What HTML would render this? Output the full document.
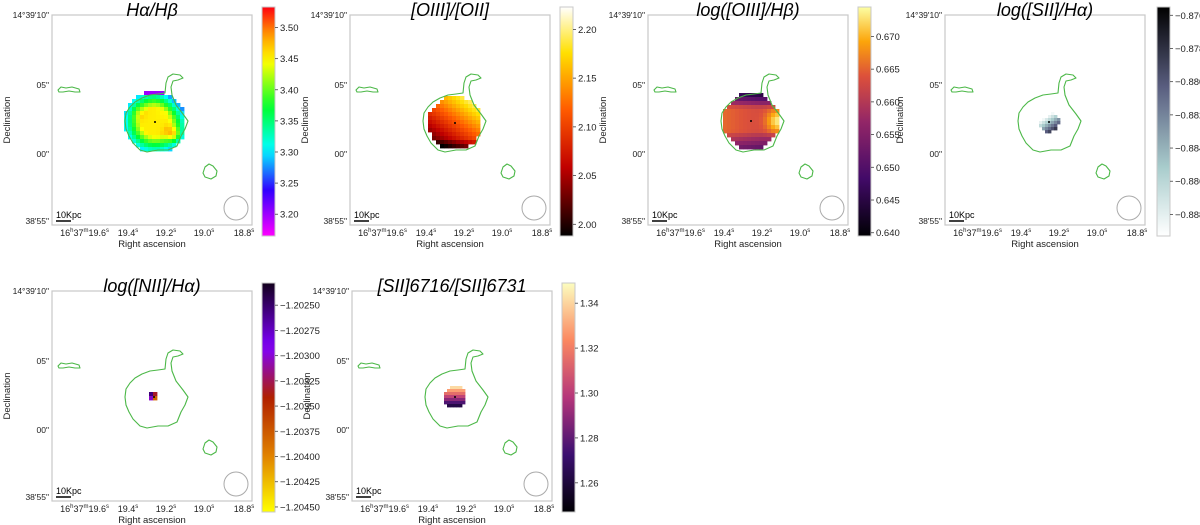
<!DOCTYPE html>
<html><head><meta charset="utf-8">
<style>
html,body{margin:0;padding:0;background:#fff;}
svg{display:block;font-family:"Liberation Sans","DejaVu Sans",sans-serif;}
</style></head>
<body>
<svg id="fig" width="1200" height="525" viewBox="0 0 1200 525" xmlns="http://www.w3.org/2000/svg"></svg>
<script>
// ---- data arrays ----
const panelTitles = ["Hα/Hβ","[OIII]/[OII]","log([OIII]/Hβ)","log([SII]/Hα)","log([NII]/Hα)","[SII]6716/[SII]6731"];
const yTickLabels = ["14°39'10\"","05\"","00\"","38'55\""];
const xTickLabels = ["19.4","19.2","19.0","18.8"];
const cbarMin = [3.165, 1.988, 0.6395, -0.8893, -1.20455, 1.247];
const cbarMax = [3.533, 2.223, 0.6745, -0.8755, -1.20228, 1.349];
const cbarTicks1 = [3.20,3.25,3.30,3.35,3.40,3.45,3.50];
const cbarTicks2 = [2.00,2.05,2.10,2.15,2.20];
const cbarTicks3 = [0.640,0.645,0.650,0.655,0.660,0.665,0.670];
const cbarTicks4 = [-0.888,-0.886,-0.884,-0.882,-0.880,-0.878,-0.876];
const cbarTicks5 = [-1.20450,-1.20425,-1.20400,-1.20375,-1.20350,-1.20325,-1.20300,-1.20275,-1.20250];
const cbarTicks6 = [1.26,1.28,1.30,1.32,1.34];
const tickDecimals = [2,2,3,3,5,2];

const NS="http://www.w3.org/2000/svg";
const svg=document.getElementById('fig');
function mk(tag,attrs,parent){const e=document.createElementNS(NS,tag);for(const k in attrs)e.setAttribute(k,attrs[k]);(parent||svg).appendChild(e);return e;}

const cmaps=[
 [[0,"#ff00ff"],[0.2,"#3000ff"],[0.38,"#00ffff"],[0.56,"#00ff30"],[0.76,"#ffff00"],[0.88,"#ff9900"],[1,"#ff0010"]],
 [[0,"#000000"],[0.3,"#c00000"],[0.55,"#ff5a00"],[0.8,"#ffe000"],[1,"#ffffff"]],
 [[0,"#000004"],[0.25,"#420a68"],[0.5,"#932667"],[0.7,"#dd513a"],[0.85,"#fca50a"],[1,"#fcffa4"]],
 [[0,"#ffffff"],[0.3,"#a8cccc"],[0.65,"#5a5e80"],[1,"#000000"]],
 [[0,"#ffff00"],[0.25,"#e08000"],[0.5,"#b02000"],[0.72,"#8000ff"],[1,"#12001c"]],
 [[0,"#000004"],[0.25,"#3b0f70"],[0.5,"#b5367a"],[0.75,"#fb8861"],[1,"#fcfdbf"]]
];
const ticksAll=[cbarTicks1,cbarTicks2,cbarTicks3,cbarTicks4,cbarTicks5,cbarTicks6];

function hex(c){return [parseInt(c.slice(1,3),16),parseInt(c.slice(3,5),16),parseInt(c.slice(5,7),16)];}
function cmapColor(stops,t){t=Math.max(0,Math.min(1,t));for(let i=1;i<stops.length;i++){if(t<=stops[i][0]){const a=stops[i-1],b=stops[i];const f=(t-a[0])/(b[0]-a[0]);const A=hex(a[1]),B=hex(b[1]);return `rgb(${A.map((x,j)=>Math.round(x+(B[j]-x)*f)).join(',')})`;}}return stops[stops.length-1][1];}

const panels=[
 {ox:52,oy:15,cb:262},{ox:350,oy:15,cb:560},{ox:648,oy:15,cb:858},{ox:945,oy:15,cb:1157},
 {ox:52,oy:291,cb:262},{ox:352,oy:291,cb:562}
];
const blobs=[
 {cx:103,cy:107,r:31,cell:4},{cx:105,cy:108,r:27,cell:4},{cx:103,cy:106,r:28,cell:4},
 {cx:104,cy:107,r:10,cell:3},{cx:102,cy:106,r:5,cell:4},{cx:103,cy:106,r:11,cell:3}
];
const fields=[
 (u,v,d)=>{if(v<-0.82&&u>-0.35&&u<0.3)return 3.2;return 3.452+0.085*Math.exp(-((u-0.6)**2+(v-0.4)**2)/0.06)-0.16*Math.max(0,d-0.45)/0.55-0.07*Math.max(0,-v)*Math.max(0,u)+0.02*Math.exp(-((u+0.55)**2+(v+0.3)**2)/0.05);},
 (u,v,d)=>2.11+0.05*u-0.07*v-0.06*Math.max(0,v-0.55)/0.45,
 (u,v,d)=>0.6635+0.012*Math.exp(-((u-1)**2+v*v)/0.2)-0.02*Math.max(0,-v-0.45)/0.55-0.012*Math.max(0,v-0.35)/0.65-0.002*u,
 (u,v,d)=>-0.885+0.004*u+0.006*v,
 (u,v,d)=>-1.2035-0.001*u-0.0006*v,
 (u,v,d)=>1.30-0.048*v
];

const contourMain=[[113,78],[114,68],[116,62],[121,59],[128,60],[131,63],[126,65],[121,66],[119,72],[120,80],[124,90],[131,99],[136,106],[133,114],[129,121],[125,131],[116,135],[106,135],[95,137],[88,135],[81,128],[77,121],[74,114],[73,106],[74,98],[78,92],[83,87],[90,83],[98,80],[106,79]];
const contourLeft=[[6,75],[9,72],[14,73],[20,72],[27,74],[28,77],[23,77],[17,76],[11,77],[7,77]];
const contourRight=[[153,152],[157,149],[161,151],[165,156],[164,161],[159,164],[153,162],[151,158]];
function pathOf(pts,ox,oy){return 'M'+pts.map(p=>(p[0]+ox).toFixed(1)+','+(p[1]+oy).toFixed(1)).join(' L')+' Z';}

panels.forEach((P,i)=>{
 const g=mk('g',{});
 
 
 const aw=200,ah=210,ox=P.ox,oy=P.oy;
 const fr=mk('rect',{x:ox,y:oy,width:aw,height:ah,fill:'#fff',stroke:'#c8c8c8','stroke-width':1.2},g);
 
 
 const t=mk('text',{x:ox+aw/2,y:oy+1,'text-anchor':'middle','font-size':18,'font-style':'italic',fill:'#000'},g);
 t.textContent=panelTitles[i];
 
 
 const B=blobs[i];const f=fields[i];const vmin=cbarMin[i],vmax=cbarMax[i];
 const bg=mk('g',{},g);
 
 
 const c=B.cell;
 for(let yy=-B.r;yy<B.r;yy+=c){for(let xx=-B.r;xx<B.r;xx+=c){
  const mx=xx+c/2,my=yy+c/2;const d=Math.sqrt(mx*mx+my*my)/B.r;if(d>1)continue;
  const val=f(mx/B.r,my/B.r,d);
  mk('rect',{x:ox+B.cx+xx,y:oy+B.cy+yy,width:c+0.4,height:c+0.4,fill:cmapColor(cmaps[i],(val-vmin)/(vmax-vmin))},bg);
 }}
 mk('circle',{cx:ox+B.cx,cy:oy+B.cy,r:1,fill:'#000'},g);
 [contourMain,contourLeft,contourRight].forEach(pts=>{
  const p=mk('path',{d:pathOf(pts,ox,oy),fill:'none',stroke:'#4cb848','stroke-width':1.1,'stroke-linejoin':'round'},g);
  
  
 });
 const bm=mk('circle',{cx:ox+184,cy:oy+193,r:12,fill:'none',stroke:'#aaa','stroke-width':1},g);
 
 
 mk('line',{x1:ox+4,y1:oy+206,x2:ox+19,y2:oy+206,stroke:'#000','stroke-width':1.5},g);
 const sb=mk('text',{x:ox+4,y:oy+203,'font-size':9,fill:'#000'},g);
 sb.textContent='10Kpc';
 
 
 const yPos=[0,70,139,206];
 yTickLabels.forEach((lab,k)=>{
  const tt=mk('text',{x:ox-3,y:oy+yPos[k]+3,'text-anchor':'end','font-size':8.5,fill:'#222'},g);
  tt.textContent=lab;
  
  
 });
 const xs=mk('text',{x:ox+57,y:oy+ah+11,'text-anchor':'end','font-size':9,fill:'#222'},g);
 xs.innerHTML='16<tspan font-size="6" dy="-4">h</tspan><tspan dy="4">37</tspan><tspan font-size="6" dy="-4">m</tspan><tspan dy="4">19.6</tspan><tspan font-size="6" dy="-4">s</tspan>';
 
 
 const xPos=[76,114,152,192];
 xTickLabels.forEach((lab,k)=>{
  const tt=mk('text',{x:ox+xPos[k],y:oy+ah+11,'text-anchor':'middle','font-size':9,fill:'#222'},g);
  tt.innerHTML=lab+'<tspan font-size="6" dy="-4">s</tspan>';
  
  
 });
 const xl=mk('text',{x:ox+aw/2,y:oy+ah+22,'text-anchor':'middle','font-size':9.5,fill:'#222'},g);
 xl.textContent='Right ascension';
 
 
 const yl=mk('text',{x:0,y:0,'text-anchor':'middle','font-size':9.5,fill:'#222',transform:`translate(${ox-42},${oy+ah/2}) rotate(-90)`},g);
 yl.textContent='Declination';
 
 
 const cy0=oy-8,ch=229,cw=13,cx=P.cb;
 const gid='grad'+i;
 const defs=mk('defs',{},g);
 const lg=mk('linearGradient',{id:gid,x1:0,y1:1,x2:0,y2:0},defs);
 for(let s=0;s<=20;s++){mk('stop',{offset:s/20,'stop-color':cmapColor(cmaps[i],s/20)},lg);}
 const cbr=mk('rect',{x:cx,y:cy0,width:cw,height:ch,fill:`url(#${gid})`,stroke:'#c8c8c8','stroke-width':1},g);
 
 
 ticksAll[i].forEach(tv=>{
  const y=cy0+ch-(tv-vmin)/(vmax-vmin)*ch;
  mk('line',{x1:cx+cw,y1:y,x2:cx+cw+3,y2:y,stroke:'#444','stroke-width':0.8},g);
  const tt=mk('text',{x:cx+cw+5,y:y+3.5,'font-size':9.5,fill:'#222'},g);
  tt.textContent=tv.toFixed(tickDecimals[i]).replace('-','−');
  
  
 });
});
</script>
</body></html>
